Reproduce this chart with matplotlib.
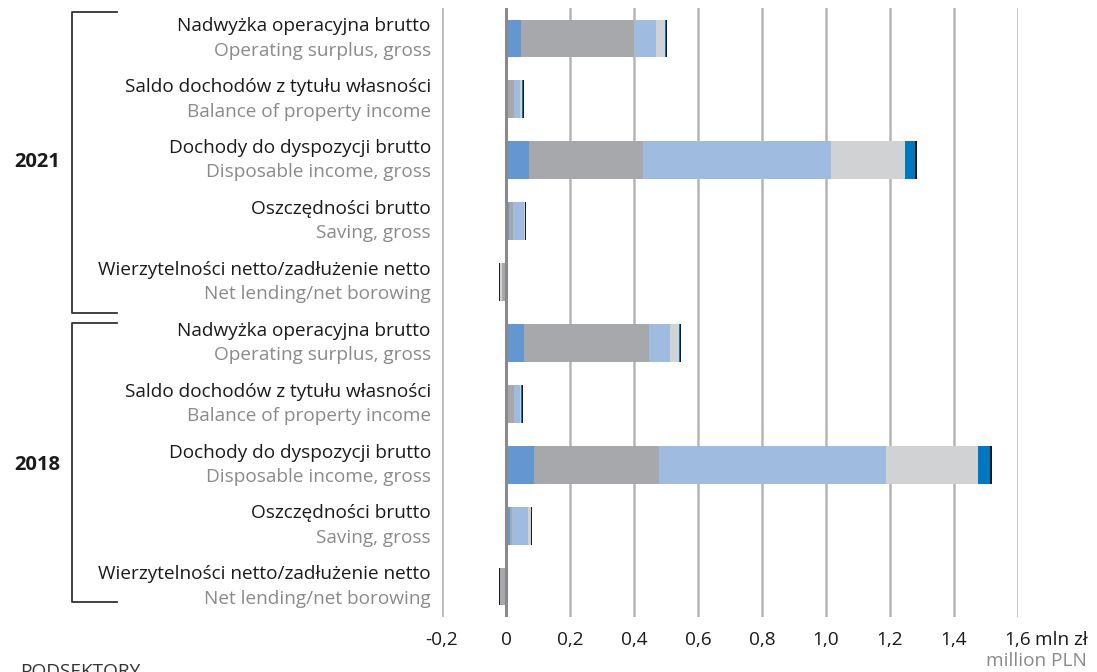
import numpy as np
import matplotlib.pyplot as plt
from matplotlib.lines import Line2D

plt.rcParams['font.family'] = ['Open Sans', 'DejaVu Sans']

# rows, top to bottom (2021 block, then 2018 block)
labels_pl = ["Nadwyżka operacyjna brutto", "Saldo dochodów z tytułu własności",
             "Dochody do dyspozycji brutto", "Oszczędności brutto",
             "Wierzytelności netto/zadłużenie netto"] * 2
labels_en = ["Operating surplus, gross", "Balance of property income",
             "Disposable income, gross", "Saving, gross",
             "Net lending/net borowing"] * 2
years = ["2021", "2018"]

# subsectors, mln zł
sub1 = [0.047, 0.000, 0.072, 0.010, 0.000, 0.056, 0.000, 0.0875, 0.0125, 0.000]
sub2 = [0.353, 0.025, 0.356, 0.012, -0.013, 0.390, 0.025, 0.390, 0.006, -0.019]
sub3 = [0.069, 0.019, 0.5875, 0.034, 0.006, 0.066, 0.019, 0.709, 0.050, 0.000]
sub4 = [0.028, 0.006, 0.231, 0.003, -0.006, 0.028, 0.003, 0.2875, 0.009, 0.003]
sub5 = [0.003, 0.002, 0.031, 0.001, -0.001, 0.005, 0.002, 0.0375, 0.001, 0.000]
sub6 = [0.003, 0.003, 0.006, 0.003, -0.003, 0.003, 0.004, 0.006, 0.003, -0.004]

series = [sub1, sub2, sub3, sub4, sub5, sub6]
colors = ["#6497d0", "#a7a8ac", "#a0bbe0", "#d1d2d4", "#0077c0", "#1a1a1a"]

xticks = [-0.2, 0, 0.2, 0.4, 0.6, 0.8, 1.0, 1.2, 1.4, 1.6]
xticklabels = ["-0,2", "0", "0,2", "0,4", "0,6", "0,8", "1,0", "1,2", "1,4", "1,6"]

W, H = 1097, 672
fs = 13.7
fig = plt.figure(figsize=(W / 100, H / 100), dpi=100)
ax = fig.add_axes([442 / W, 1 - 617 / H, 576 / W, 609 / H])

n = len(labels_pl)
y = np.arange(n)
pos = np.zeros(n)
neg = np.zeros(n)
for vals, c in zip(series, colors):
    vals = np.array(vals)
    left = np.where(vals >= 0, pos, neg)
    ax.barh(y, vals, left=left, height=0.62, color=c, linewidth=0, zorder=3)
    pos = np.where(vals >= 0, pos + vals, pos)
    neg = np.where(vals < 0, neg + vals, neg)

ax.set_xlim(-0.2, 1.6)
ax.set_ylim(n - 0.5, -0.5)
for s in ax.spines.values():
    s.set_visible(False)
for t in xticks:
    if t == 0:
        ax.axvline(t, color="#8a8a8a", lw=2.2, zorder=4)
    else:
        ax.axvline(t, color="#b5b5b5", lw=1.8, zorder=1)
ax.set_yticks([])
ax.set_xticks(xticks)
ax.set_xticklabels(xticklabels, fontsize=fs, color="#1a1a1a")
ax.tick_params(axis="x", length=0, pad=10)

ax.annotate("mln zł", xy=(1.6, 0), xycoords=("data", "axes fraction"),
            xytext=(12, -10), textcoords="offset points", ha="left", va="top",
            fontsize=fs, color="#1a1a1a")
fig.text(1087 / W, 1 - 661 / H, "million PLN", ha="right", va="center",
         fontsize=fs, color="#8a8a8a")

# row labels
for i in range(n):
    ax.text(-0.235, i - 0.2, labels_pl[i], ha="right", va="center",
            fontsize=fs, color="#1a1a1a")
    ax.text(-0.235, i + 0.2, labels_en[i], ha="right", va="center",
            fontsize=fs, color="#8a8a8a")

# year brackets
def bracket(y0, y1):
    x0, x1 = 72 / W, 117 / W
    pts_x = [x1, x0, x0, x1]
    pts_y = [1 - y0 / H, 1 - y0 / H, 1 - y1 / H, 1 - y1 / H]
    fig.add_artist(Line2D(pts_x, pts_y, color="#333333", lw=1.3))

bracket(12, 313)
bracket(323, 602)
fig.text(37 / W, 1 - 162 / H, years[0], ha="center", va="center",
         fontsize=14.5, fontweight="bold", color="#1a1a1a")
fig.text(37 / W, 1 - 465 / H, years[1], ha="center", va="center",
         fontsize=14.5, fontweight="bold", color="#1a1a1a")

fig.text(20 / W, 1 - 663 / H, "PODSEKTORY", ha="left", va="top",
         fontsize=fs, color="#333333")

fig.savefig("out.png", dpi=100)
